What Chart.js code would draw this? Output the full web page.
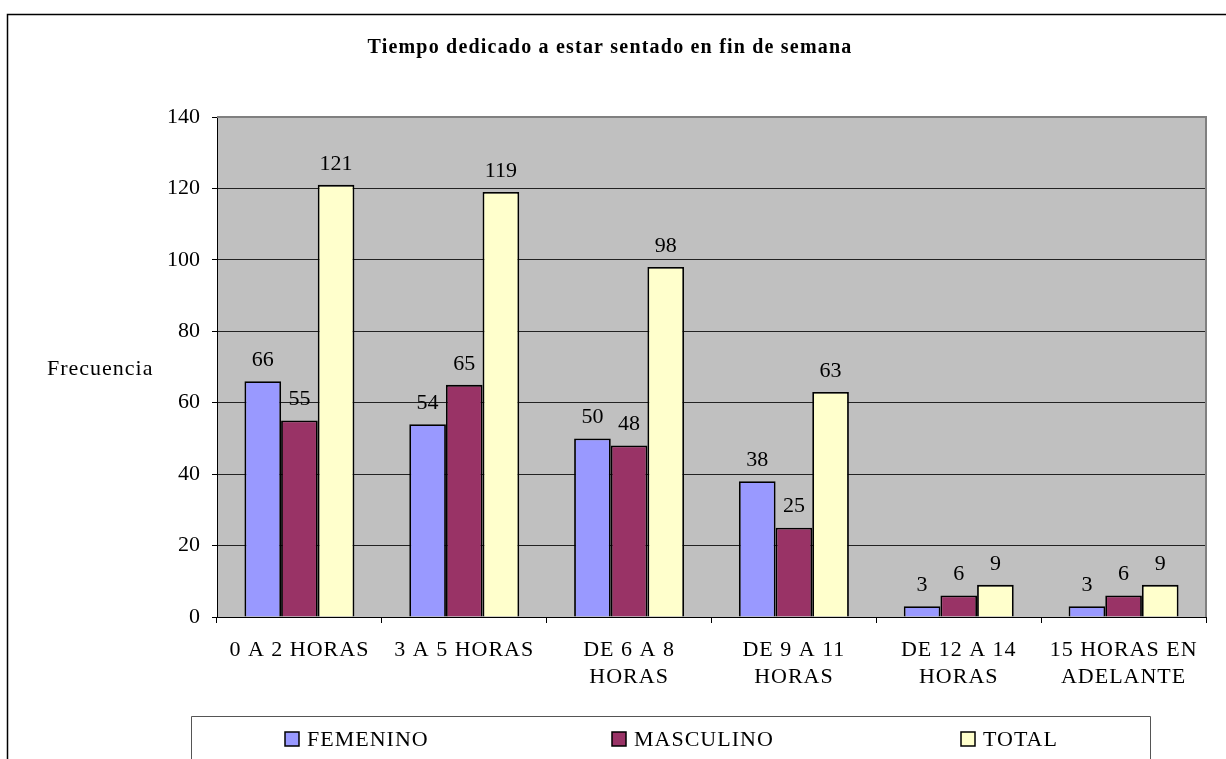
<!DOCTYPE html>
<html>
<head>
<meta charset="utf-8">
<script src="https://cdn.jsdelivr.net/npm/chart.js@4.4.1/dist/chart.umd.min.js"></script>
<style>
    html, body { margin: 0; padding: 0; background: #fff; }
    #wrap { width: 1226px; height: 759px; }
</style>
</head>
<body>
<div id="wrap"><canvas id="grafico" width="1226" height="759"></canvas></div>
<script>
//---------------------------- DATA ----------------------------//
const categorias = [
    ['0 A 2 HORAS'],
    ['3 A 5 HORAS'],
    ['DE 6 A 8', 'HORAS'],
    ['DE 9 A 11', 'HORAS'],
    ['DE 12 A 14', 'HORAS'],
    ['15 HORAS EN', 'ADELANTE']
];
const femenino = [66, 54, 50, 38, 3, 3];
const masculino = [55, 65, 48, 25, 6, 6];
const total = [121, 119, 98, 63, 9, 9];
const yTicks = [0, 20, 40, 60, 80, 100, 120, 140];

const tituloTexto = 'Tiempo dedicado a estar sentado en fin de semana';
const ejeYTexto = 'Frecuencia';
const serif = "'Liberation Serif', 'Times New Roman', serif";

//---------------------------- PLUGINS ----------------------------//
// gray plot background, frame, title, y title, value labels, legend box
const decoPlugin = {
    id: 'deco',
    afterLayout(chart) {
        // x labels get a bit of letter spacing, numbers don't
        const xs = chart.scales.x;
        if (!xs._spaced) {
            const orig = xs.drawLabels.bind(xs);
            xs.drawLabels = (area) => {
                chart.ctx.save();
                chart.ctx.letterSpacing = '1px';
                orig(area);
                chart.ctx.restore();
            };
            xs._spaced = true;
        }
    },
    beforeDraw(chart) {
        const ctx = chart.ctx;
        const a = chart.chartArea;
        ctx.letterSpacing = '0px';
        ctx.save();
        ctx.fillStyle = '#c0c0c0';
        ctx.fillRect(a.left, a.top, a.right - a.left, a.bottom - a.top);
        // outer frame
        ctx.strokeStyle = '#000';
        ctx.lineWidth = 1.5;
        ctx.beginPath();
        ctx.moveTo(7.5, chart.height);
        ctx.lineTo(7.5, 14.5);
        ctx.lineTo(chart.width, 14.5);
        ctx.stroke();
        // title
        ctx.fillStyle = '#000';
        ctx.font = 'bold 20px ' + serif;
        ctx.letterSpacing = '1.2px';
        ctx.textAlign = 'center';
        ctx.textBaseline = 'middle';
        ctx.fillText(tituloTexto, 610, 48);
        // y axis title, horizontal
        ctx.font = '22px ' + serif;
        ctx.letterSpacing = '1px';
        ctx.textAlign = 'left';
        ctx.fillText(ejeYTexto, 47, 369);
        ctx.restore();
    },
    beforeDatasetsDraw(chart) {
        const ctx = chart.ctx;
        const a = chart.chartArea;
        ctx.save();
        ctx.strokeStyle = '#808080';
        ctx.lineWidth = 2;
        ctx.beginPath();
        ctx.moveTo(a.left, a.top);
        ctx.lineTo(a.right, a.top);
        ctx.lineTo(a.right, a.bottom);
        ctx.stroke();
        ctx.restore();
    },
    afterDatasetsDraw(chart) {
        const ctx = chart.ctx;
        ctx.save();
        ctx.fillStyle = '#000';
        ctx.font = '22px ' + serif;
        ctx.letterSpacing = '0px';
        ctx.textAlign = 'center';
        ctx.textBaseline = 'middle';
        chart.data.datasets.forEach((ds, i) => {
            chart.getDatasetMeta(i).data.forEach((bar, j) => {
                ctx.fillText(String(ds.data[j]), bar.x, bar.y - 21);
            });
        });
        ctx.restore();
    },
    afterDraw(chart) {
        // legend box spread like the original
        const ctx = chart.ctx;
        const box = { left: 191.5, right: 1150.5, top: 716.5 };
        ctx.save();
        ctx.strokeStyle = '#555';
        ctx.lineWidth = 1;
        ctx.beginPath();
        ctx.moveTo(box.left, chart.height);
        ctx.lineTo(box.left, box.top);
        ctx.lineTo(box.right, box.top);
        ctx.lineTo(box.right, chart.height);
        ctx.stroke();
        const starts = [285, 612, 961];
        ctx.font = '22px ' + serif;
        ctx.letterSpacing = '1px';
        ctx.textAlign = 'left';
        ctx.textBaseline = 'middle';
        chart.data.datasets.forEach((ds, i) => {
            const x = starts[i];
            ctx.fillStyle = ds.backgroundColor;
            ctx.fillRect(x, 732, 14, 14);
            ctx.strokeStyle = '#000';
            ctx.lineWidth = 1.5;
            ctx.strokeRect(x, 732, 14, 14);
            ctx.fillStyle = '#000';
            ctx.fillText(ds.label, x + 22, 740);
        });
        ctx.restore();
    }
};

//---------------------------- CHART ----------------------------//
const makeDataset = (label, data, color) => ({
    label: label,
    data: data,
    backgroundColor: color,
    borderColor: '#000',
    borderWidth: 1.8,
    barPercentage: 1.0,
    categoryPercentage: 0.667
});

new Chart(document.getElementById('grafico').getContext('2d'), {
    type: 'bar',
    data: {
        labels: categorias,
        datasets: [
            makeDataset('FEMENINO', femenino, '#9999ff'),
            makeDataset('MASCULINO', masculino, '#993366'),
            makeDataset('TOTAL', total, '#ffffcc')
        ]
    },
    options: {
        responsive: false,
        animation: false,
        layout: { padding: { left: 0, right: 20, top: 117, bottom: 0 } },
        plugins: {
            legend: { display: false },
            title: { display: false },
            tooltip: { enabled: false }
        },
        scales: {
            x: {
                afterFit: (scale) => { scale.height = 142; },
                grid: {
                    drawOnChartArea: false,
                    drawTicks: true,
                    tickLength: 6,
                    color: '#000'
                },
                border: { color: '#000', width: 1 },
                ticks: {
                    color: '#000',
                    font: { family: serif, size: 22, lineHeight: 1.22 },
                    padding: 14,
                    maxRotation: 0,
                    autoSkip: false
                }
            },
            y: {
                min: 0,
                max: 140,
                afterFit: (scale) => { scale.width = 217; },
                afterBuildTicks: (scale) => { scale.ticks = yTicks.map(v => ({ value: v })); },
                grid: {
                    color: (c) => (c.tick && c.tick.value === 140 ? '#808080' : '#222'),
                    tickColor: '#000',
                    tickLength: 5,
                    lineWidth: 1
                },
                border: { color: '#000', width: 1 },
                ticks: {
                    color: '#000',
                    font: { family: serif, size: 22 },
                    padding: 12
                }
            }
        }
    },
    plugins: [decoPlugin]
});
</script>
</body>
</html>
